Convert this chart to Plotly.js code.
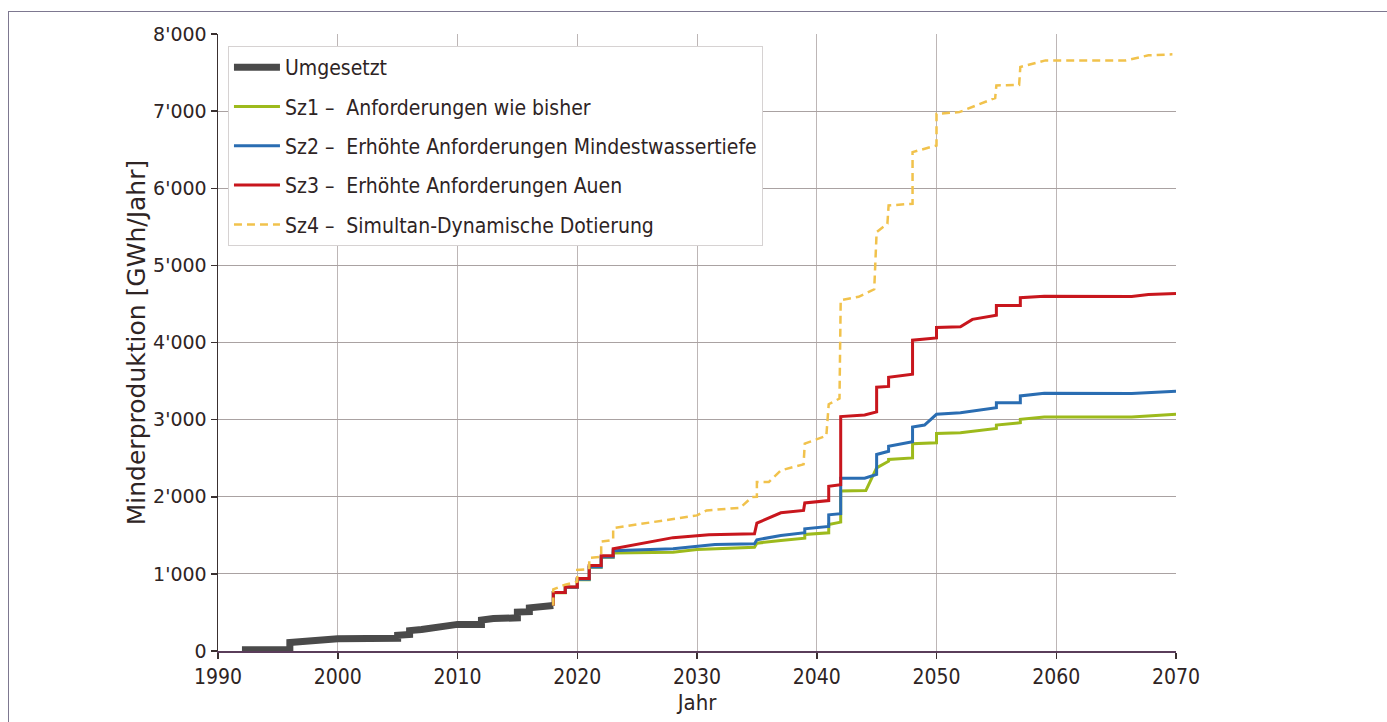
<!DOCTYPE html>
<html>
<head>
<meta charset="utf-8">
<script src="https://cdn.plot.ly/plotly-3.0.1.min.js"></script>
<style>
  html, body { margin: 0; padding: 0; background: #fff; overflow: hidden; }
  #chart { width: 1387px; height: 722px; position: absolute; left: 0; top: 0; }
  #frame { position: absolute; left: 8px; top: 11px; width: 2000px; height: 2000px;
           border-top: 1.5px solid #7d7890; border-left: 1.5px solid #7d7890; pointer-events: none; }
</style>
</head>
<body>
<div id="chart"></div>
<div id="frame"></div>
<script>
// ---- Data ----
const seriesNames = [
  "Umgesetzt",
  "Sz1 \u2013\u00a0 Anforderungen wie bisher",
  "Sz2 \u2013\u00a0 Erh\u00f6hte Anforderungen Mindestwassertiefe",
  "Sz3 \u2013\u00a0 Erh\u00f6hte Anforderungen Auen",
  "Sz4 \u2013\u00a0 Simultan-Dynamische Dotierung"
];

const umgYears  = [1992, 1996, 1996, 1997, 1998, 1999, 2000, 2005, 2005, 2006, 2006, 2007, 2008, 2009, 2010, 2012, 2012, 2013, 2015, 2015, 2016, 2016, 2017, 2018];
const umgValues = [15, 15, 110, 125, 140, 150, 160, 165, 205, 215, 265, 280, 300, 330, 345, 345, 400, 420, 430, 505, 510, 560, 575, 590];

const sz1Years  = [2018, 2018, 2019, 2019, 2020, 2020, 2021, 2021, 2022, 2022, 2023, 2023, 2028, 2030, 2034.8, 2035, 2037, 2039, 2039, 2041, 2041, 2042, 2042, 2044.1, 2045, 2046, 2046, 2048, 2048, 2050, 2050, 2052, 2055, 2055, 2057, 2057, 2059, 2066.3, 2070];
const sz1Values = [590, 755, 755, 825, 825, 925, 925, 1085, 1085, 1215, 1215, 1270, 1281, 1316, 1346, 1398, 1433, 1463, 1511, 1533, 1641, 1671, 2075, 2080, 2374, 2461, 2483, 2504, 2687, 2700, 2821, 2830, 2886, 2930, 2960, 3004, 3034, 3034, 3069];

const sz2Years  = [2018, 2018, 2019, 2019, 2020, 2020, 2021, 2021, 2022, 2022, 2023, 2023, 2028, 2030, 2031.5, 2034.8, 2035, 2037, 2039, 2039, 2041, 2041, 2042, 2042, 2044, 2045, 2045, 2046, 2046, 2048, 2048, 2049, 2050, 2052, 2055, 2055, 2057, 2057, 2059, 2066.3, 2070];
const sz2Values = [590, 758, 758, 828, 828, 930, 930, 1090, 1090, 1220, 1220, 1300, 1325, 1360, 1380, 1390, 1442, 1498, 1533, 1585, 1615, 1766, 1780, 2240, 2240, 2290, 2548, 2590, 2656, 2713, 2904, 2930, 3069, 3090, 3155, 3220, 3220, 3307, 3342, 3338, 3368];

const sz3Years  = [2018, 2018, 2019, 2019, 2020, 2020, 2021, 2021, 2022, 2022, 2023, 2023, 2028, 2030, 2031, 2034.8, 2035, 2037, 2038.9, 2039, 2041, 2041, 2042, 2042, 2044, 2045, 2045, 2046, 2046, 2048, 2048, 2050, 2050, 2052, 2053, 2055, 2055, 2057, 2057, 2059, 2066.3, 2067.7, 2070];
const sz3Values = [590, 760, 760, 830, 830, 940, 940, 1110, 1110, 1235, 1235, 1325, 1470, 1498, 1507, 1520, 1658, 1792, 1823, 1920, 1950, 2135, 2155, 3040, 3060, 3100, 3420, 3430, 3550, 3590, 4030, 4060, 4195, 4205, 4300, 4355, 4480, 4480, 4580, 4600, 4598, 4622, 4635];

const sz4Years  = [2018, 2018, 2019, 2020, 2020, 2021, 2021, 2022, 2022, 2023, 2023, 2030, 2030.8, 2033.6, 2034.6, 2035, 2035, 2036, 2037, 2038.9, 2039, 2040.8, 2041, 2041.9, 2042, 2043.5, 2044.8, 2045, 2045.9, 2046, 2048, 2048, 2050, 2050, 2051.9, 2054.9, 2055, 2056.9, 2057, 2059.1, 2065.8, 2067.7, 2069.7];
const sz4Values = [590, 800, 860, 900, 1050, 1060, 1206, 1220, 1418, 1440, 1594, 1758, 1823, 1857, 1996, 2000, 2191, 2191, 2342, 2420, 2689, 2790, 3200, 3273, 4550, 4593, 4690, 5432, 5540, 5777, 5799, 6469, 6555, 6965, 6987, 7170, 7333, 7340, 7572, 7658, 7658, 7723, 7736];

const xTickVals = [1990, 2000, 2010, 2020, 2030, 2040, 2050, 2060, 2070];

// ---- Traces ----
const narrowFamily = "'Liberation Sans Narrow', 'DejaVu Sans Condensed', 'Liberation Sans', sans-serif";
const legendFont = { family: narrowFamily, size: 21, color: "#2e2424" };

const traces = [
  { x: umgYears, y: umgValues, name: seriesNames[0], legendgroup: "g0", mode: "lines",
    line: { color: "#4a4a4a", width: 7 } },
  { x: sz1Years, y: sz1Values, name: seriesNames[1], legendgroup: "g1", mode: "lines",
    line: { color: "#9dba1c", width: 3 } },
  { x: sz2Years, y: sz2Values, name: seriesNames[2], legendgroup: "g2", mode: "lines",
    line: { color: "#2a6db2", width: 3 } },
  { x: sz3Years, y: sz3Values, name: seriesNames[3], legendgroup: "g3", mode: "lines",
    line: { color: "#c8161d", width: 3 } },
  { x: sz4Years, y: sz4Values, name: seriesNames[4], legendgroup: "g4", mode: "lines",
    line: { color: "#f1c24c", width: 2.5, dash: "8px,5px" } }
];

const layout = {
  width: 1387, height: 722,
  margin: { l: 218, r: 211, t: 34, b: 71, pad: 0 },
  paper_bgcolor: "#ffffff", plot_bgcolor: "#ffffff",
  separators: ".'",
  showlegend: true,
  legend: {
    x: 0.0104, y: 0.9805, xanchor: "left", yanchor: "top",
    bgcolor: "#ffffff", bordercolor: "#d6d2d2", borderwidth: 1,
    font: legendFont, itemwidth: 46, tracegroupgap: 9, traceorder: "grouped"
  },
  xaxis: {
    range: [1990, 2070], tickvals: xTickVals, ticks: "outside", ticklen: 6, tickwidth: 1.5,
    tickcolor: "#3a3030", showline: true, linecolor: "#5a3d5a", linewidth: 1.5,
    showgrid: true, gridcolor: "#bdb6b6", gridwidth: 1, zeroline: false,
    tickfont: { family: narrowFamily, size: 21, color: "#2e2424" },
    title: { text: "Jahr", standoff: 7, font: { family: narrowFamily, size: 22, color: "#2e2424" } },
    automargin: false, fixedrange: true
  },
  yaxis: {
    range: [0, 8000], dtick: 1000, tickformat: ",d", ticks: "outside", ticklen: 6, tickwidth: 1.5,
    tickcolor: "#3a3030", showline: true, linecolor: "#3a3030", linewidth: 1.5,
    showgrid: true, gridcolor: "#aaa2a2", gridwidth: 1, zeroline: false,
    tickfont: { family: "'DejaVu Sans', sans-serif", size: 19, color: "#2e2424" },
    title: { text: "Minderproduktion [GWh/Jahr]", standoff: 0, font: { family: "'DejaVu Sans', sans-serif", size: 25, color: "#2e2424" } },
    automargin: false, fixedrange: true
  }
};

Plotly.newPlot("chart", traces, layout, { staticPlot: true, displayModeBar: false });
</script>
</body>
</html>
